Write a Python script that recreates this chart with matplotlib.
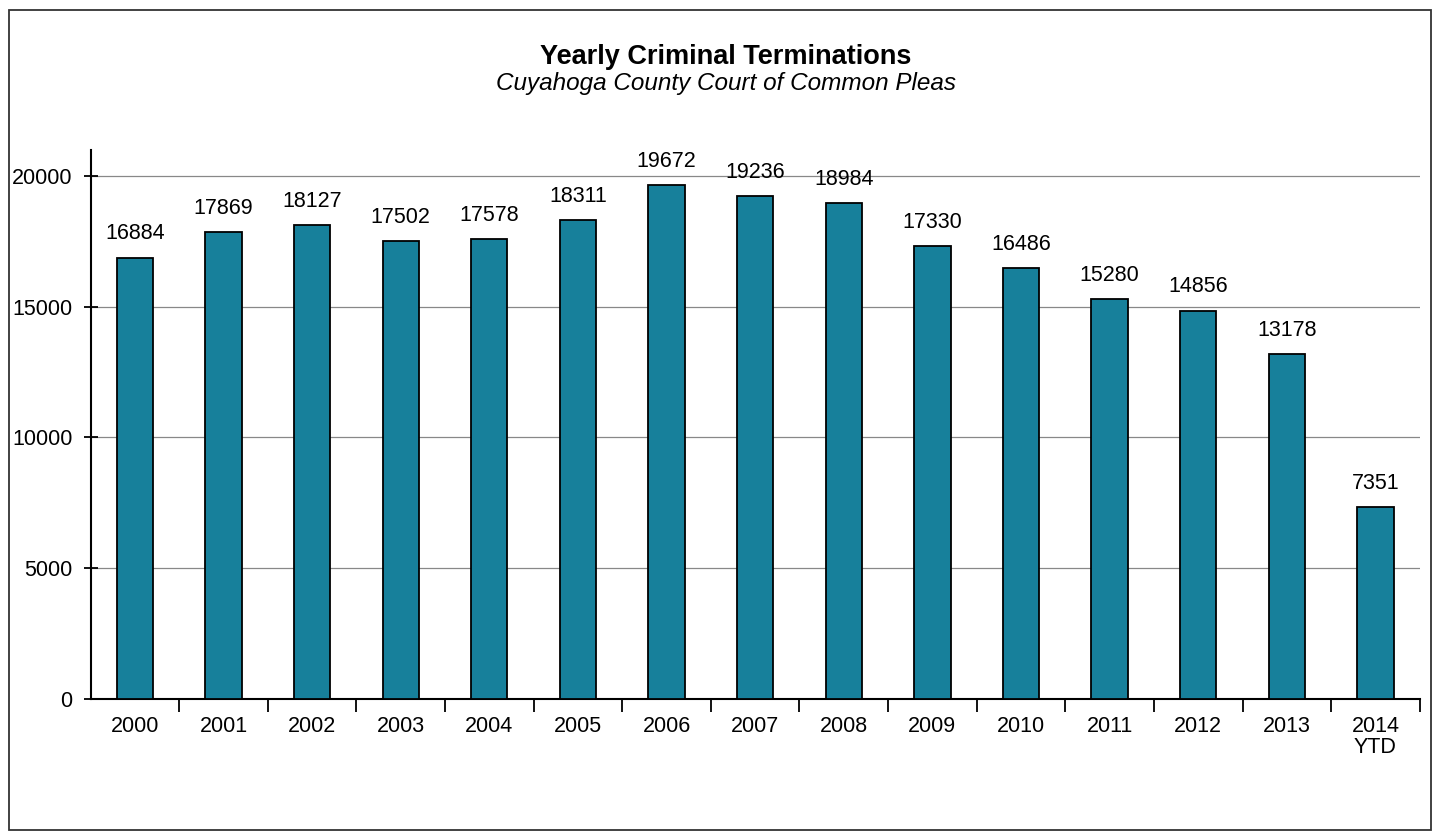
import matplotlib.pyplot as plt
from matplotlib.patches import Rectangle

plt.rcParams['font.family'] = ['Liberation Sans', 'DejaVu Sans']

# Yearly criminal terminations
years = ["2000", "2001", "2002", "2003", "2004", "2005", "2006", "2007",
         "2008", "2009", "2010", "2011", "2012", "2013", "2014\nYTD"]
terminations = [16884, 17869, 18127, 17502, 17578, 18311, 19672, 19236,
                18984, 17330, 16486, 15280, 14856, 13178, 7351]
y_ticks = [0, 5000, 10000, 15000, 20000]

fig = plt.figure(figsize=(14.37, 8.33), dpi=100)
ax = fig.add_axes([0.063, 0.161, 0.925, 0.659])

x = list(range(len(years)))
bars = ax.bar(x, terminations, width=0.41, color="#17809b", edgecolor="black",
              linewidth=1.3, zorder=3)

for xi, v in zip(x, terminations):
    ax.text(xi, v + 500, str(v), ha="center", va="bottom", fontsize=15.5)

ax.set_xlim(-0.5, len(years) - 0.5)
ax.set_ylim(0, 21000)
ax.set_yticks(y_ticks)
ax.set_yticklabels([str(t) for t in y_ticks], fontsize=15.5)
ax.yaxis.grid(True, color="#888888", linewidth=0.9, zorder=0)
ax.tick_params(axis="y", direction="inout", length=10, width=1.3, pad=8)

# category labels without ticks, ticks between the categories
ax.set_xticks(x)
ax.set_xticklabels(years, fontsize=15.5, linespacing=1.0)
ax.tick_params(axis="x", length=0, pad=12)
ax.set_xticks([i + 0.5 for i in x], minor=True)
ax.tick_params(axis="x", which="minor", direction="out", length=9, width=1.3)

for s in ["top", "right"]:
    ax.spines[s].set_visible(False)
for s in ["left", "bottom"]:
    ax.spines[s].set_linewidth(1.5)

fig.text(0.505, 0.932, "Yearly Criminal Terminations", ha="center", va="center",
         fontsize=19.5, fontweight="bold")
fig.text(0.505, 0.9, "Cuyahoga County Court of Common Pleas", ha="center",
         va="center", fontsize=17.5, style="italic")

# frame around the whole chart
fig.patches.append(Rectangle((0.006, 0.004), 0.99, 0.984, transform=fig.transFigure,
                             fill=False, edgecolor="#333333", linewidth=1.3))

fig.savefig("out.png", dpi=100)
